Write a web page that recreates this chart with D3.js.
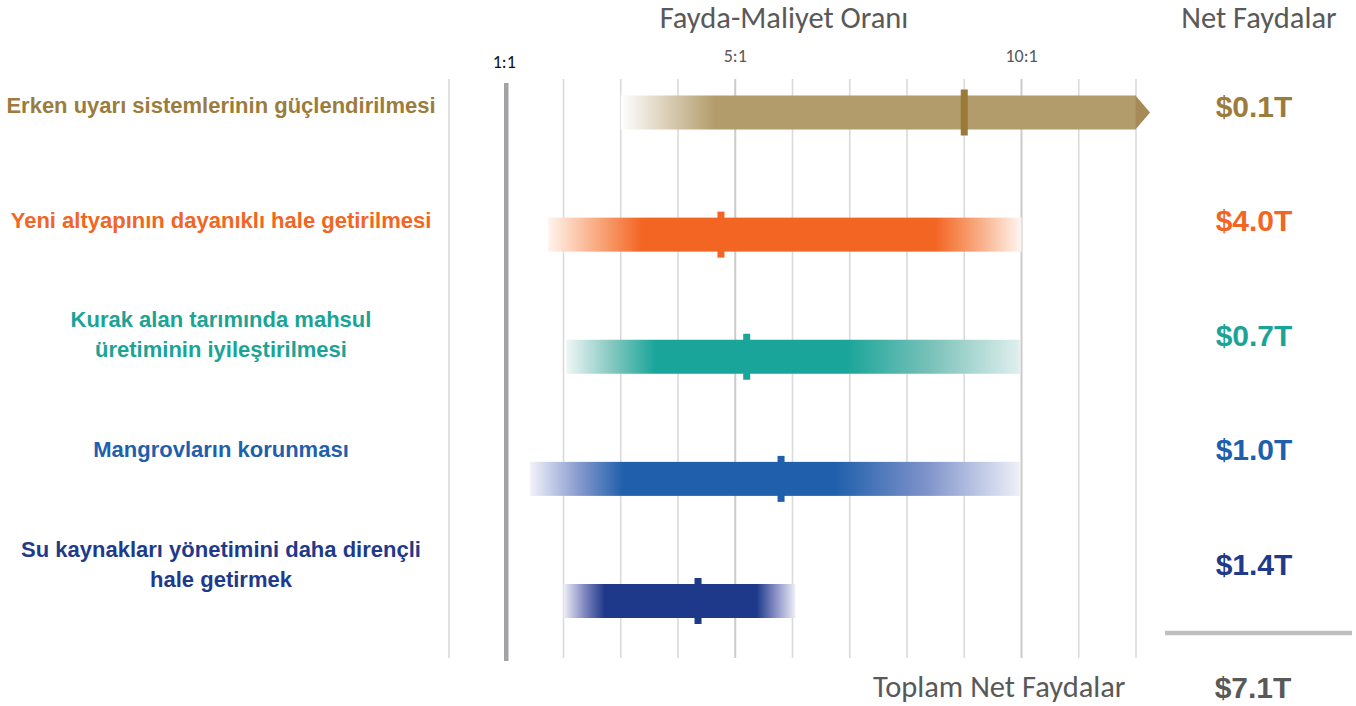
<!DOCTYPE html>
<html><head><meta charset="utf-8">
<script src="https://cdn.jsdelivr.net/npm/d3@7"></script>
<style>html,body{margin:0;padding:0;background:#fff;} svg{display:block;}</style>
</head><body>
<svg id="chart" width="1356" height="706"></svg>
<script>
// ---------------- DATA ----------------
const categories = [
  "Erken uyarı sistemlerinin güçlendirilmesi",
  "Yeni altyapının dayanıklı hale getirilmesi",
  "Kurak alan tarımında mahsul\nüretiminin iyileştirilmesi",
  "Mangrovların korunması",
  "Su kaynakları yönetimini daha dirençli\nhale getirmek"
];
const ratioLow  = [3.0, 1.73, 2.05, 1.41, 2.0];   // faded start of range
const coreLow   = [4.66, 3.37, 3.61, 3.05, 2.72]; // solid band start
const ratioMid  = [9.0, 4.75, 5.2, 5.8, 4.35];    // central estimate
const coreHigh  = [12, 8.49, 6.93, 6.73, 5.37];   // solid band end
const ratioHigh = [12, 10.0, 9.97, 9.97, 6.05];   // faded end of range
const openEnded = [true, false, false, false, false];
const netBenefits = ["$0.1T", "$4.0T", "$0.7T", "$1.0T", "$1.4T"];
const totalNet = "$7.1T";
const tickValues = [1, 5, 10];
const tickLabels = ["1:1", "5:1", "10:1"];

// ---------------- STYLE ----------------
const fullColors = ["#b39c6b", "#f36523", "#19a59a", "#1f5fab", "#1e398a"];
const leftEdge   = ["#ffffff", "#fff4ee", "#eef6f5", "#f2f3fa", "#eeeff8"];
const leftMid    = ["#d9cdb5", "#f9ad84", "#86c9c1", "#8c9dd0", "#8289c0"];
const rightMid   = ["#af9866", "#f8aa80", "#7cc2ba", "#7f93cb", "#8a90c6"];
const rightEdge  = ["#a68a57", "#fff6f1", "#e0efed", "#eef0f8", "#eceef7"];
const markerColors = ["#9b7a37", "#f26522", "#19a59a", "#1f5fab", "#1e398a"];
const textColors   = ["#9c7c3c", "#f26522", "#1ba396", "#1f5fad", "#1f3a8a"];
const gray = "#595959";
const titleFont = "Carlito, Lato, 'Open Sans', sans-serif";
const boldFont = "'Liberation Sans', Arial, sans-serif";

const svg = d3.select("#chart");

const x = d3.scaleLinear().domain([0, 12]).range([449, 1136]);
const barY = d3.scalePoint().domain(categories).range([112.5, 601]);
const textY = d3.scalePoint().domain(categories).range([113, 571.5]);
const barH = 34;

// gridlines
const grid = svg.append("g");
grid.selectAll("line.g").data(x.ticks(12).filter(v => v !== 1)).join("line")
  .attr("x1", d => x(d)).attr("x2", d => x(d))
  .attr("y1", 79).attr("y2", 658)
  .attr("stroke", d => (d === 5 || d === 10) ? "#cbcbcb" : "#dadada")
  .attr("stroke-width", d => (d === 5 || d === 10) ? 2 : 1.6);
grid.append("line")
  .attr("x1", x(1)).attr("x2", x(1)).attr("y1", 83).attr("y2", 661)
  .attr("stroke", "#a3a3a7").attr("stroke-width", 4.5);

// tick labels
svg.append("g").selectAll("text").data(tickValues).join("text")
  .attr("x", d => x(d) + (d === 1 ? -2 : 0))
  .attr("y", d => d === 1 ? 68 : 62)
  .attr("text-anchor", "middle")
  .attr("font-family", titleFont)
  .attr("font-size", 18)
  .attr("fill", d => d === 1 ? "#111" : gray)
  .text((d, i) => tickLabels[i]);

// headers
svg.append("text").attr("x", 784).attr("y", 28).attr("text-anchor", "middle")
  .attr("font-family", titleFont).attr("font-size", 30.5).attr("fill", gray)
  .text("Fayda-Maliyet Oranı");
svg.append("text").attr("x", 1259).attr("y", 28).attr("text-anchor", "middle")
  .attr("font-family", titleFont).attr("font-size", 30.5).attr("fill", gray)
  .text("Net Faydalar");

// gradients
const defs = svg.append("defs");
categories.forEach((c, i) => {
  const lo = ratioLow[i], hi = ratioHigh[i];
  const off = v => (v - lo) / (hi - lo);
  const g = defs.append("linearGradient").attr("id", "grad" + i)
    .attr("x1", "0").attr("x2", "1").attr("y1", "0").attr("y2", "0");
  const stops = [
    [0, leftEdge[i]],
    [off((lo + coreLow[i]) / 2), leftMid[i]],
    [off(coreLow[i]), fullColors[i]],
    [off(coreHigh[i]), fullColors[i]]
  ];
  if (openEnded[i]) {
    stops.push([0.7, fullColors[i]]);
    stops.push([1, rightEdge[i]]);
  } else {
    stops.push([off((coreHigh[i] + hi) / 2), rightMid[i]]);
    stops.push([1, rightEdge[i]]);
  }
  stops.sort((a, b) => a[0] - b[0]);
  g.selectAll("stop").data(stops).join("stop")
    .attr("offset", d => Math.max(0, Math.min(1, d[0])))
    .attr("stop-color", d => d[1]);
});

// bars
const bars = svg.append("g");
categories.forEach((c, i) => {
  const cy = barY(c);
  bars.append("rect")
    .attr("x", x(ratioLow[i])).attr("y", cy - barH / 2)
    .attr("width", x(ratioHigh[i]) - x(ratioLow[i])).attr("height", barH)
    .attr("fill", `url(#grad${i})`);
  if (openEnded[i]) {
    const xe = x(ratioHigh[i]);
    bars.append("path")
      .attr("d", `M${xe - 0.5},${cy - barH / 2}L${xe + 14},${cy}L${xe - 0.5},${cy + barH / 2}Z`)
      .attr("fill", rightEdge[i]);
  }
  bars.append("rect")
    .attr("x", x(ratioMid[i]) - 3.5).attr("y", cy - barH / 2 - 6)
    .attr("width", 7).attr("height", barH + 12)
    .attr("fill", markerColors[i]);
});

// category labels
const labels = svg.append("g");
categories.forEach((c, i) => {
  const lines = c.split("\n");
  const base = textY(c);
  const t = labels.append("text")
    .attr("text-anchor", "middle")
    .attr("font-family", boldFont).attr("font-weight", "bold")
    .attr("font-size", 22).attr("fill", textColors[i]);
  lines.forEach((ln, k) => {
    t.append("tspan").attr("x", 221)
      .attr("y", base + (k - (lines.length - 1) / 2) * 30)
      .text(ln);
  });
});

// net benefit values
svg.append("g").selectAll("text").data(categories).join("text")
  .attr("x", 1254).attr("y", d => textY(d) + 3.5)
  .attr("text-anchor", "middle")
  .attr("font-family", boldFont).attr("font-weight", "bold")
  .attr("font-size", 30)
  .attr("fill", (d, i) => textColors[i])
  .text((d, i) => netBenefits[i]);

// total
svg.append("line").attr("x1", 1165).attr("x2", 1352).attr("y1", 633).attr("y2", 633)
  .attr("stroke", "#bfbfbf").attr("stroke-width", 4.5);
svg.append("text").attr("x", 873).attr("y", 697)
  .attr("font-family", titleFont).attr("font-size", 30.5).attr("fill", gray)
  .text("Toplam Net Faydalar");
svg.append("text").attr("x", 1253).attr("y", 698).attr("text-anchor", "middle")
  .attr("font-family", boldFont).attr("font-weight", "bold")
  .attr("font-size", 30).attr("fill", gray)
  .text(totalNet);
</script>
</body></html>
